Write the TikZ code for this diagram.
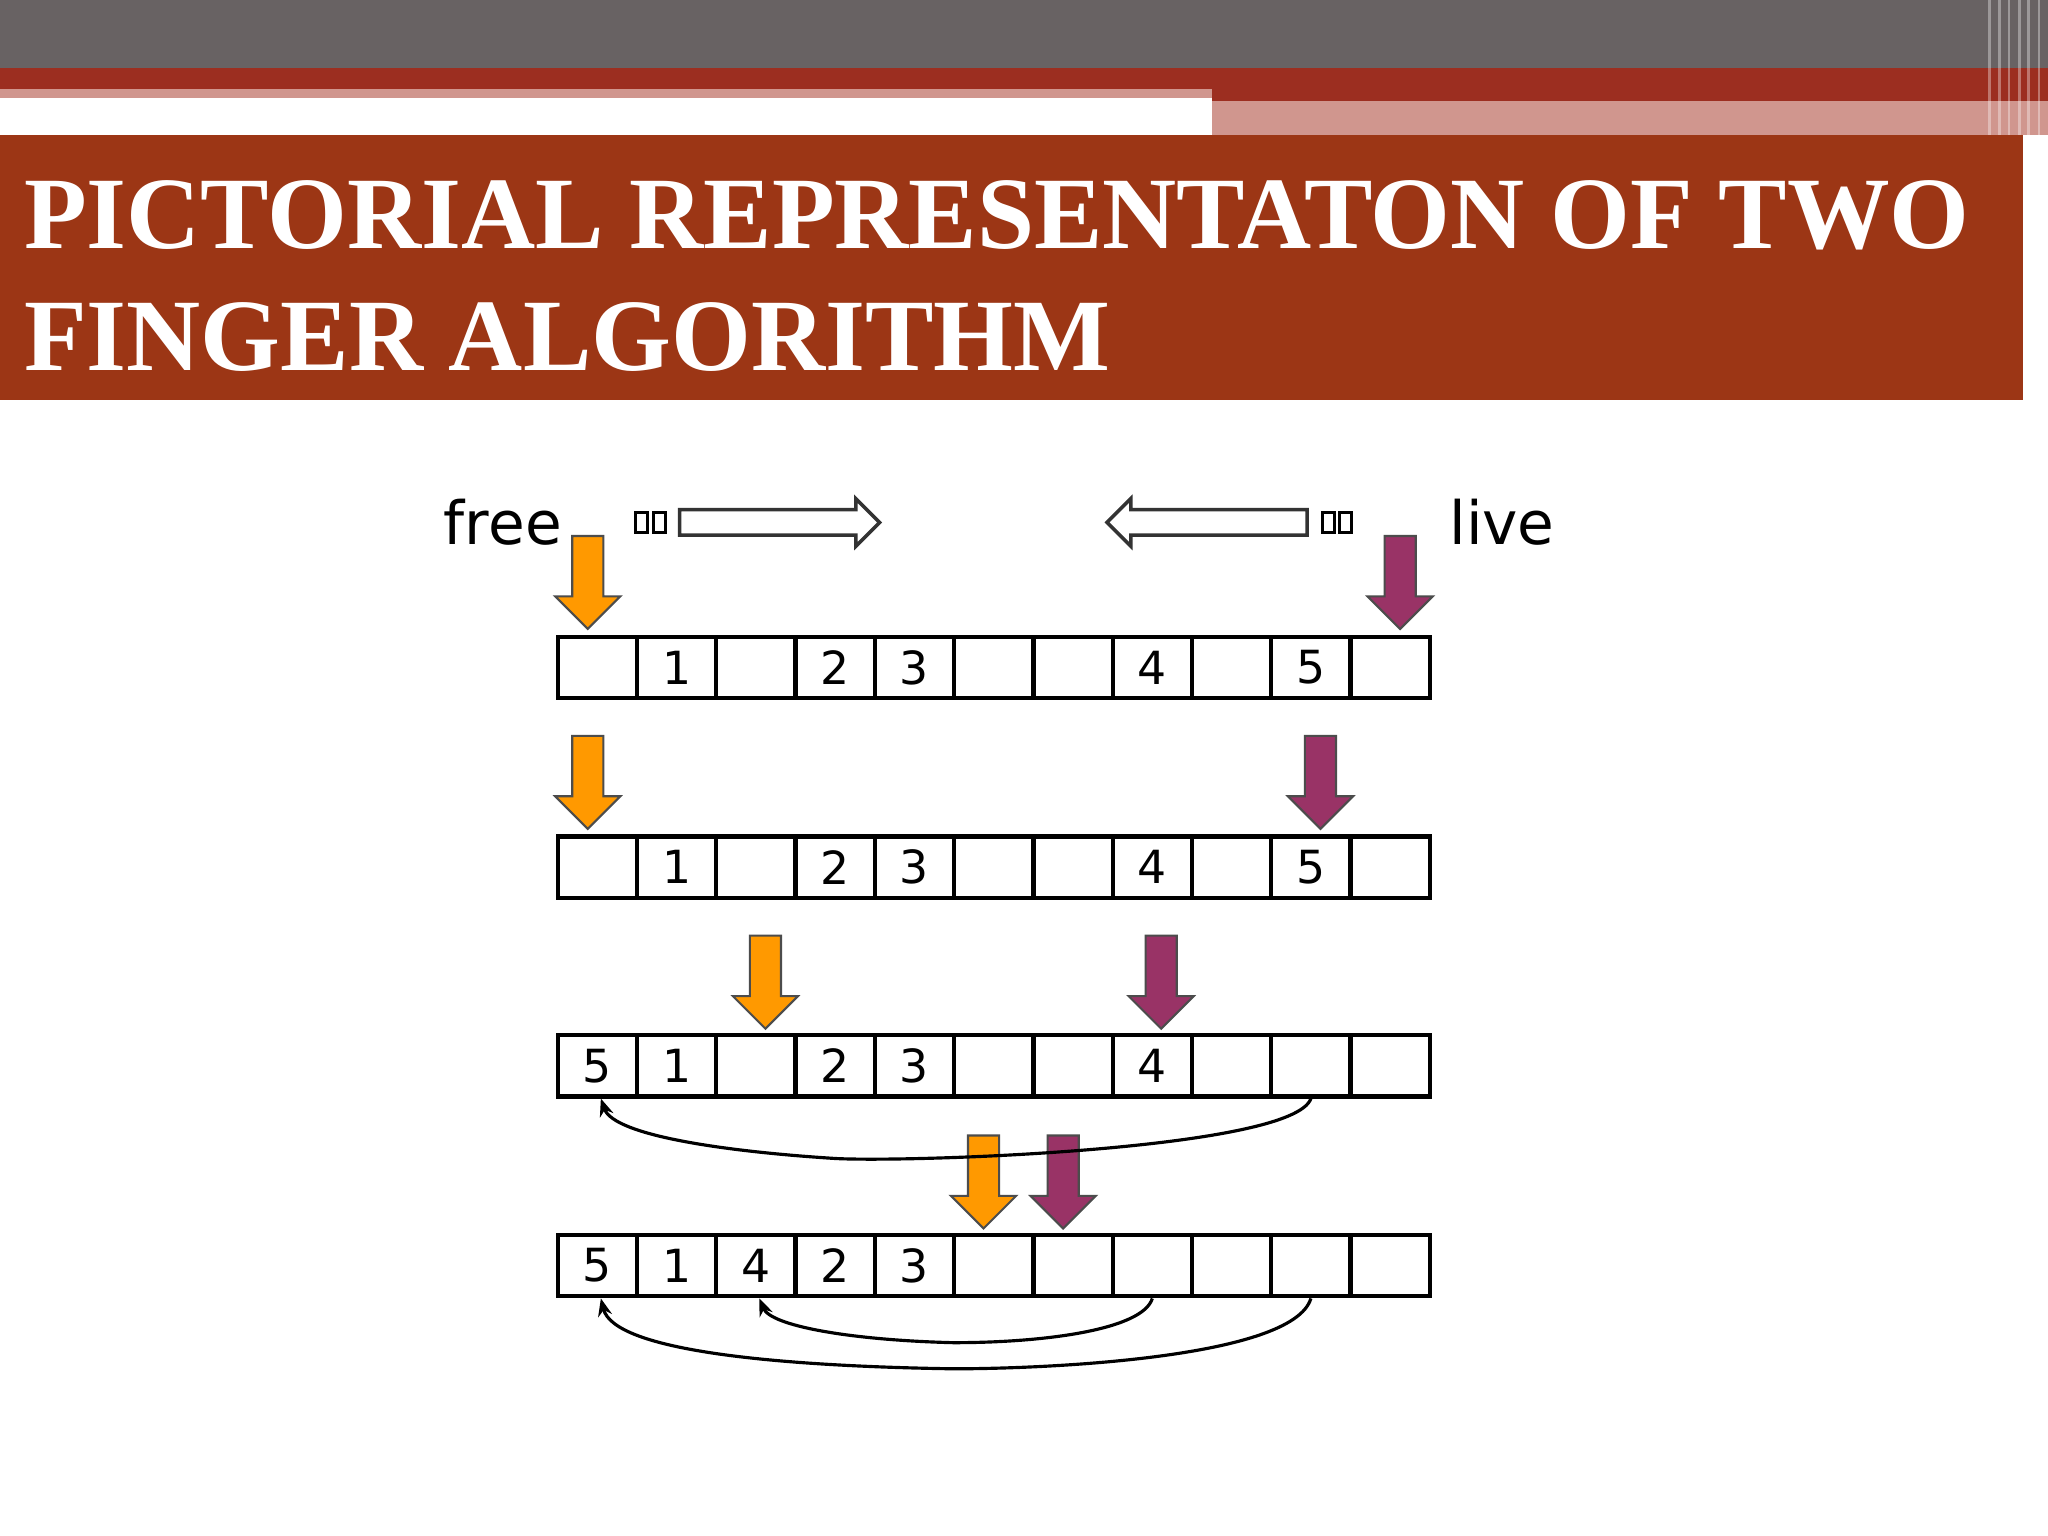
\documentclass[tikz,border=0pt]{standalone}
\usepackage{fontspec}
\setmainfont{Liberation Serif}
\newfontfamily\vsans{DejaVu Sans}
\usetikzlibrary{shapes.arrows,arrows.meta}
\definecolor{topgray}{HTML}{686263}
\definecolor{bandred}{HTML}{9C2E20}
\definecolor{bandpink}{HTML}{D0968E}
\definecolor{titlered}{HTML}{9C3615}
\definecolor{forange}{HTML}{FF9900}
\definecolor{lpurple}{HTML}{993366}
\tikzset{
 cell/.style={draw,line width=1.2pt,minimum width=0.793cm,minimum height=0.614cm,inner sep=0pt,font=\vsans\fontsize{13}{13}\selectfont},
 darr/.style={single arrow,draw=black!70,line width=0.6pt,shape border rotate=270,minimum height=0.93cm,minimum width=0.63cm,single arrow head extend=0.17cm,inner sep=0pt,single arrow tip angle=90},
 harr/.style={single arrow,draw=black!80,fill=white,line width=1pt,minimum height=2.0cm,minimum width=0.44cm,single arrow head extend=0.11cm,inner sep=0pt},
 tbox/.style={draw=black,line width=0.8pt,minimum width=0.12cm,minimum height=0.2cm,inner sep=0pt},
 link/.style={line width=0.9pt,-{Stealth[length=5pt,width=4pt]}},
 lbl/.style={font=\vsans\fontsize{17}{17}\selectfont},
 title/.style={text=white,font=\bfseries\fontsize{29.2}{29.2}\selectfont,anchor=base west,inner sep=0pt}
}
\newcommand{\vshaft}{\hspace*{0.29cm}}
\newcommand{\hshaft}{\rule{0pt}{0.22cm}}
\begin{document}
\begin{tikzpicture}[x=0.013061cm,y=-0.013061cm]
\useasboundingbox (0,0) rectangle (1568,1176);
\fill[white] (0,0) rectangle (1568,1176);
% header bands
\fill[topgray] (0,0) rectangle (1568,52);
\fill[bandred] (0,52) rectangle (1568,68);
\fill[bandpink] (0,68) rectangle (928,75);
\fill[bandred] (928,68) rectangle (1568,77);
\fill[bandpink] (928,77) rectangle (1568,103);
\foreach \x in {1522,1530,1537,1545,1552,1560}{\fill[white,opacity=0.35] (\x,0) rectangle (\x+2,103);}
\fill[titlered] (0,103) rectangle (1549,306);
\node[title] (t1) at (18,190) {PICTORIAL REPRESENTATON OF TWO};
\node[title] (t2) at (18,284) {FINGER ALGORITHM};
% labels
\node[lbl] (free) at (385,400) {free};
\node[lbl] (live) at (1150,400) {live};
\node[harr] (h1) at (592,400) {\hshaft};
\node[harr,shape border rotate=180] (h2) at (929,400) {\hshaft};
\node[tbox] (b1) at (491,400) {};\node[tbox] (b2) at (505,400) {};
\node[tbox] (b3) at (1017,400) {};\node[tbox] (b4) at (1030,400) {};
% rows
\foreach \r/\y/\vals in {1/511/{,1,,2,3,,,4,,5,},2/664/{,1,,2,3,,,4,,5,},3/816/{5,1,,2,3,,,4,,,},4/969/{5,1,4,2,3,,,,,,}}{
  \foreach \v [count=\i] in \vals {
    \node[cell] (c\r-\i) at ({427+60.7*(\i-0.5)},\y) {\v};
  }
}
% arrows
\node[darr,fill=forange] (o1) at (450,440) {\vshaft};
\node[darr,fill=lpurple] (p1) at (1072,440) {\vshaft};
\node[darr,fill=forange] (o2) at (450,593) {\vshaft};
\node[darr,fill=lpurple] (p2) at (1011,593) {\vshaft};
\node[darr,fill=forange] (o3) at (586,746) {\vshaft};
\node[darr,fill=lpurple] (p3) at (889,746) {\vshaft};
\node[darr,fill=forange] (o4) at (753,899) {\vshaft};
\node[darr,fill=lpurple] (p4) at (814,899) {\vshaft};
% links
\draw[link] (c3-10.south) .. controls (990,880) and (700,890) .. (640,887) .. controls (560,882) and (470,870) .. ([xshift=1pt]c3-1.south);
\draw[link] (c4-10.south) .. controls (990,1040) and (800,1048) .. (730,1048) .. controls (600,1046) and (470,1035) .. ([xshift=1pt]c4-1.south);
\draw[link] (c4-8.south) .. controls (875,1018) and (800,1028) .. (730,1028) .. controls (650,1026) and (590,1015) .. ([xshift=1pt]c4-3.south);
\end{tikzpicture}
\end{document}
